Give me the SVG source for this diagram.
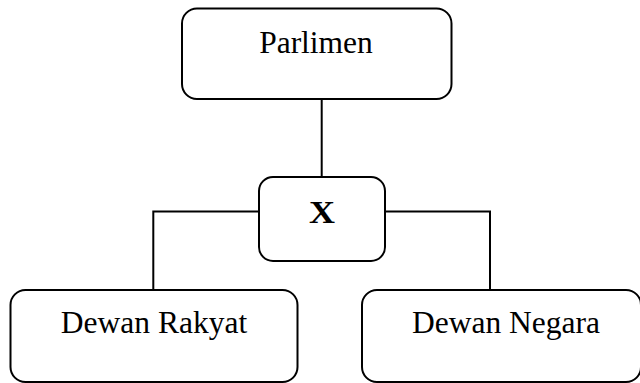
<svg xmlns="http://www.w3.org/2000/svg" width="640" height="383" viewBox="0 0 640 383">
<style>
.box{fill:#fff;stroke:#000;stroke-width:2}
.lbl{font-family:"Liberation Serif","Times New Roman",serif;font-size:31.5px;fill:#000;text-anchor:middle}
.bold{font-weight:bold;font-size:31.5px}
.conn{fill:none;stroke:#000;stroke-width:2}
</style>
<rect width="640" height="383" fill="#fff"/>
<g id="connectors">
<path class="conn" d="M321.7,99 V177"/>
<path class="conn" d="M259,211.5 H153.3 V290"/>
<path class="conn" d="M385,211.5 H490 V290"/>
</g>
<g id="parlimen">
<rect class="box" x="182" y="8.5" width="269.5" height="90.5" rx="15" ry="15"/>
<text class="lbl" x="316" y="53">Parlimen</text>
</g>
<g id="x">
<rect class="box" x="259" y="177" width="126" height="84" rx="14" ry="14"/>
<text class="lbl bold" x="322" y="222.5" textLength="26" lengthAdjust="spacingAndGlyphs">X</text>
</g>
<g id="dewan-rakyat">
<rect class="box" x="10.5" y="290" width="287" height="92" rx="15" ry="15"/>
<text class="lbl" x="154" y="333">Dewan Rakyat</text>
</g>
<g id="dewan-negara">
<rect class="box" x="362" y="290" width="279" height="92" rx="15" ry="15"/>
<text class="lbl" x="506" y="333">Dewan Negara</text>
</g>
</svg>
